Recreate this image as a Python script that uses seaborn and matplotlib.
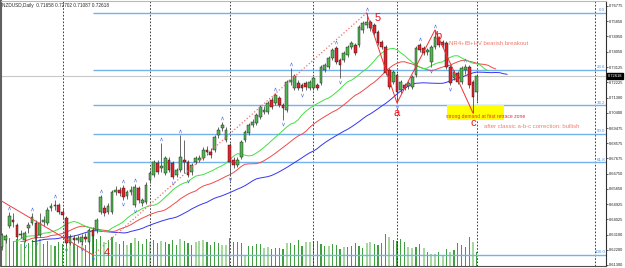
import numpy as np
import pandas as pd
import matplotlib
matplotlib.use("Agg")
import matplotlib.pyplot as plt
import matplotlib.transforms as mtransforms
import seaborn as sns

# NZDUSD daily candles (bar 0 = leftmost)
opens = [
    0.6237, 0.6279, 0.6363, 0.6399, 0.6369, 0.6309, 0.6279, 0.6351, 0.6381, 0.6381,
    0.6309, 0.6387, 0.6381, 0.6471, 0.6483, 0.6489, 0.6447, 0.6411, 0.6261, 0.6291,
    0.6279, 0.6267, 0.6297, 0.6267, 0.6339, 0.6339, 0.6447, 0.6471, 0.6447, 0.6447,
    0.6566, 0.6578, 0.6590, 0.6542, 0.6566, 0.6489, 0.6590, 0.6501, 0.6506, 0.6638,
    0.6668, 0.6740, 0.6710, 0.6680, 0.6757, 0.6740, 0.6668, 0.6698, 0.6757, 0.6745,
    0.6686, 0.6745, 0.6757, 0.6769, 0.6817, 0.6805, 0.6817, 0.6907, 0.6949, 0.6877,
    0.6847, 0.6757, 0.6728, 0.6775, 0.6877, 0.6919, 0.6967, 0.6979, 0.7014, 0.7044,
    0.7044, 0.7116, 0.7098, 0.7128, 0.7086, 0.7056, 0.7223, 0.7188, 0.7218, 0.7206,
    0.7218, 0.7188, 0.7188, 0.7206, 0.7218, 0.7295, 0.7313, 0.7367, 0.7427, 0.7355,
    0.7355, 0.7385, 0.7433, 0.7445, 0.7445, 0.7534, 0.7564, 0.7582, 0.7564, 0.7522,
    0.7462, 0.7433, 0.7295, 0.7223, 0.7265, 0.7176, 0.7206, 0.7200, 0.7194, 0.7265,
    0.7445, 0.7427, 0.7403, 0.7343, 0.7433, 0.7486, 0.7462, 0.7456, 0.7313, 0.7247,
    0.7277, 0.7223, 0.7295, 0.7313, 0.7223, 0.71658]
highs = [
    0.6321, 0.6315, 0.6447, 0.6441, 0.6381, 0.6339, 0.6333, 0.6387, 0.6441, 0.6399,
    0.6441, 0.6423, 0.6477, 0.6501, 0.6518, 0.6501, 0.6465, 0.6423, 0.6315, 0.6309,
    0.6309, 0.6315, 0.6321, 0.6351, 0.6357, 0.6411, 0.6548, 0.6489, 0.6501, 0.6578,
    0.6602, 0.6596, 0.6608, 0.6578, 0.6602, 0.6614, 0.6602, 0.6530, 0.6626, 0.6698,
    0.6757, 0.6757, 0.6859, 0.6781, 0.6775, 0.6751, 0.6710, 0.6907, 0.6877, 0.6757,
    0.6740, 0.6781, 0.6787, 0.6835, 0.6841, 0.6829, 0.6907, 0.6955, 0.6984, 0.6955,
    0.6859, 0.6775, 0.6775, 0.6877, 0.6937, 0.6979, 0.7002, 0.7038, 0.7086, 0.7080,
    0.7110, 0.7134, 0.7158, 0.7140, 0.7098, 0.7235, 0.7307, 0.7271, 0.7235, 0.7218,
    0.7229, 0.7235, 0.7259, 0.7218, 0.7325, 0.7337, 0.7379, 0.7427, 0.7439, 0.7367,
    0.7409, 0.7445, 0.7468, 0.7456, 0.7564, 0.7588, 0.7636, 0.7594, 0.7576, 0.7534,
    0.7474, 0.7445, 0.7307, 0.7295, 0.7277, 0.7235, 0.7218, 0.7229, 0.7265, 0.7439,
    0.7456, 0.7439, 0.7427, 0.7445, 0.7534, 0.7498, 0.7474, 0.7468, 0.7325, 0.7295,
    0.7289, 0.7319, 0.7331, 0.7325, 0.7235, 0.72702]
lows = [
    0.6220, 0.6261, 0.6351, 0.6357, 0.6285, 0.6291, 0.6267, 0.6321, 0.6369, 0.6279,
    0.6297, 0.6363, 0.6369, 0.6453, 0.6459, 0.6435, 0.6411, 0.6243, 0.6249, 0.6255,
    0.6261, 0.6249, 0.6267, 0.6255, 0.6190, 0.6321, 0.6435, 0.6423, 0.6435, 0.6435,
    0.6548, 0.6542, 0.6518, 0.6524, 0.6548, 0.6477, 0.6501, 0.6483, 0.6495, 0.6620,
    0.6656, 0.6674, 0.6686, 0.6668, 0.6686, 0.6644, 0.6656, 0.6686, 0.6680, 0.6656,
    0.6668, 0.6734, 0.6745, 0.6757, 0.6787, 0.6769, 0.6805, 0.6889, 0.6931, 0.6865,
    0.6668, 0.6710, 0.6716, 0.6763, 0.6865, 0.6907, 0.6955, 0.6967, 0.7002, 0.7032,
    0.7032, 0.7062, 0.7086, 0.7074, 0.6996, 0.7044, 0.7206, 0.7176, 0.7176, 0.7170,
    0.7176, 0.7176, 0.7176, 0.7176, 0.7206, 0.7283, 0.7301, 0.7355, 0.7331, 0.7247,
    0.7343, 0.7373, 0.7421, 0.7385, 0.7433, 0.7516, 0.7546, 0.7528, 0.7504, 0.7445,
    0.7421, 0.7265, 0.7182, 0.7212, 0.7098, 0.7158, 0.7176, 0.7182, 0.7182, 0.7253,
    0.7403, 0.7385, 0.7385, 0.7313, 0.7421, 0.7433, 0.7427, 0.7301, 0.7206, 0.7235,
    0.7212, 0.7212, 0.7271, 0.7188, 0.7038, 0.71087]
closes = [
    0.6309, 0.6303, 0.6423, 0.6387, 0.6297, 0.6315, 0.6321, 0.6369, 0.6417, 0.6291,
    0.6381, 0.6399, 0.6459, 0.6483, 0.6489, 0.6447, 0.6429, 0.6261, 0.6297, 0.6279,
    0.6291, 0.6297, 0.6285, 0.6339, 0.6303, 0.6399, 0.6536, 0.6441, 0.6483, 0.6566,
    0.6578, 0.6560, 0.6536, 0.6566, 0.6578, 0.6596, 0.6518, 0.6518, 0.6608, 0.6680,
    0.6745, 0.6686, 0.6722, 0.6769, 0.6698, 0.6656, 0.6698, 0.6775, 0.6745, 0.6668,
    0.6728, 0.6769, 0.6769, 0.6817, 0.6805, 0.6787, 0.6895, 0.6937, 0.6967, 0.6937,
    0.6745, 0.6728, 0.6757, 0.6865, 0.6925, 0.6967, 0.6984, 0.7026, 0.7074, 0.7056,
    0.7098, 0.7074, 0.7146, 0.7086, 0.7068, 0.7223, 0.7235, 0.7259, 0.7188, 0.7188,
    0.7194, 0.7223, 0.7247, 0.7188, 0.7313, 0.7325, 0.7367, 0.7415, 0.7343, 0.7325,
    0.7397, 0.7433, 0.7456, 0.7397, 0.7552, 0.7576, 0.7582, 0.7546, 0.7516, 0.7456,
    0.7433, 0.7277, 0.7194, 0.7283, 0.7164, 0.7223, 0.7188, 0.7218, 0.7253, 0.7427,
    0.7415, 0.7397, 0.7415, 0.7433, 0.7492, 0.7445, 0.7445, 0.7313, 0.7218, 0.7283,
    0.7223, 0.7307, 0.7313, 0.7206, 0.7134, 0.72618]

# tick volume (chart units) and whether the bar is drawn dark (1) or light (0) green
volume = [30, 26, 28, 24, 27, 22, 25, 23, 26, 29, 27, 22, 25, 21, 20, 24, 22, 31, 26, 22,
          20, 23, 21, 25, 33, 27, 30, 24, 26, 29, 24, 22, 25, 21, 23, 28, 25, 22, 27, 24,
          26, 23, 25, 24, 22, 26, 21, 27, 25, 23, 21, 24, 25, 26, 24, 21, 24, 23, 21, 21,
          28, 24, 24, 23, 10, 20, 20, 22, 22, 18, 19, 17, 18, 18, 17, 23, 23, 21, 26, 20,
          24, 24, 25, 25, 22, 20, 20, 22, 21, 17, 19, 19, 20, 23, 20, 18, 23, 24, 22, 21,
          23, 32, 29, 26, 25, 27, 24, 19, 18, 19, 22, 18, 14, 12, 12, 14, 11, 17, 14, 16,
          23, 21, 19, 29, 24, 14]
vol_dark = [1, 0, 1, 1, 1, 0, 1, 1, 1, 1, 0, 1, 1, 0, 1, 1, 1, 1, 0, 1,
            1, 0, 1, 1, 1, 1, 1, 0, 1, 1, 0, 1, 1, 0, 1, 0, 1, 1, 1, 0,
            1, 1, 0, 1, 1, 1, 1, 0, 1, 1, 1, 0, 0, 0, 1, 1, 1, 1, 0, 0,
            1, 1, 1, 1, 0, 1, 1, 1, 1, 0, 0, 1, 1, 1, 1, 0, 1, 1, 1, 1,
            0, 0, 1, 1, 1, 1, 0, 1, 1, 1, 0, 1, 1, 1, 1, 1, 0, 0, 1, 1,
            1, 1, 0, 1, 1, 1, 1, 0, 0, 1, 1, 0, 1, 0, 0, 1, 0, 1, 0, 1,
            1, 1, 1, 1, 0, 1]

month_starts = [16, 39, 60, 82, 104, 125, 156]
price_ticks = [0.76775, 0.75850, 0.74950, 0.74050, 0.73125, 0.72225, 0.71300, 0.70400,
               0.69475, 0.68575, 0.67675, 0.66750, 0.65850, 0.64925, 0.64025, 0.63100,
               0.62200, 0.61300]
fib_pct = [0.0, 23.6, 38.2, 50.0, 61.8, 100.0]
wave_labels = ["4", "5", "a", "b", "c"]
wave_bars = [24, 96, 104, 114, 124]
prior_pivot = (-1, 0.6525)

n = len(closes)
bars = np.arange(n)
df = pd.DataFrame({"bar": bars, "open": opens, "high": highs, "low": lows, "close": closes})

sns.set_style("white")
plt.rcParams["font.family"] = ["Liberation Sans", "DejaVu Sans"]

fig = plt.figure(figsize=(6.25, 2.68), dpi=100)
ax = fig.add_axes([1 / 625, 2 / 268, 605 / 625, 265 / 268])
ax2 = ax.twinx()
ax.set_zorder(ax2.get_zorder() + 1)
ax.patch.set_visible(False)

x_lo, x_hi = -0.2, 159.0
ax.set_xlim(x_lo, x_hi)
ax.set_ylim(0.6124, 0.7707)

# volumes at the bottom
dark = np.array(vol_dark) == 1
ax2.bar(bars[~dark], np.array(volume)[~dark], width=0.55, color="#a6d8a0", linewidth=0)
ax2.bar(bars[dark], np.array(volume)[dark], width=0.3, color="#3fa040", linewidth=0)
ax2.set_ylim(0, 265)
ax2.set_yticks([])
for s in ax2.spines.values():
    s.set_visible(False)

# period separators
for m in month_starts:
    ax.axvline(m, color="#202020", lw=0.6, ls=(0, (2, 2)), zorder=1)

# current price line
ax.axhline(closes[-1], color="#c8c8c8", lw=0.8, zorder=1)

# fibonacci retracement between wave 4 low and wave 5 high
fib_hi = highs[wave_bars[1]]
fib_lo = lows[wave_bars[0]]
for f in fib_pct:
    lvl = fib_hi - f / 100 * (fib_hi - fib_lo)
    ax.hlines(lvl, wave_bars[0], x_hi, color="#74b2ee", lw=1.0, zorder=1)
    ax.text(x_hi - 0.2, lvl + 0.0004, f"{f:.1f}", ha="right", va="bottom",
            fontsize=3.2, color="#4f93de")

# yellow demand zone
ax.add_patch(plt.Rectangle((117.1, 0.6999), 15.1, 0.0087, color="#ffff00", zorder=1.5, lw=0))

# alligator-style smoothed averages of the median price, shifted forward
median = (df["high"] + df["low"]) / 2
for period, shift, col in [(23, 8, "#3535f0"), (14, 5, "#f04a4a"), (9, 3, "#42e042")]:
    smma = median.ewm(alpha=1 / period, adjust=False).mean()
    sns.lineplot(x=df["bar"] + shift, y=smma, color=col, lw=0.7, ax=ax,
                 estimator=None, sort=False, zorder=2)

# candles
up = df["close"] >= df["open"]
ax.vlines(df["bar"], df["low"], df["high"], color="#505050", lw=0.6, zorder=3)
body = (df["close"] - df["open"]).abs().clip(lower=0.0002)
bottom = df[["open", "close"]].min(axis=1)
ax.bar(df["bar"][up], body[up], bottom=bottom[up], width=0.7, color="#52b552",
       edgecolor="#101010", linewidth=0.3, zorder=4)
ax.bar(df["bar"][~up], body[~up], bottom=bottom[~up], width=0.7, color="#e3232d",
       edgecolor="#101010", linewidth=0.3, zorder=4)

# fractals
hi = np.array(highs)
lo = np.array(lows)
fr_up = [i for i in range(2, n - 2) if hi[i] > hi[i - 2:i].max() and hi[i] >= hi[i + 1:i + 3].max()]
fr_dn = [i for i in range(2, n - 2) if lo[i] < lo[i - 2:i].min() and lo[i] <= lo[i + 1:i + 3].min()]
sns.scatterplot(x=fr_up, y=hi[fr_up] + 0.0022, marker=r"$\wedge$", s=6, color="#4a6ae8",
                linewidth=0, ax=ax, zorder=5)
sns.scatterplot(x=fr_dn, y=lo[fr_dn] - 0.0022, marker=r"$\vee$", s=6, color="#4a6ae8",
                linewidth=0, ax=ax, zorder=5)

# zigzag
zz_x = [prior_pivot[0]] + wave_bars
zz_y = [prior_pivot[1], lows[24], highs[96], lows[104], highs[114], lows[124]]
zz = pd.DataFrame({"x": zz_x, "y": zz_y})
sns.lineplot(data=zz.iloc[0:2], x="x", y="y", color="#f04040", lw=0.7, ax=ax, zorder=6)
sns.lineplot(data=zz.iloc[1:3], x="x", y="y", color="#f07070", lw=0.9, ls=":", ax=ax, zorder=6)
sns.lineplot(data=zz.iloc[2:], x="x", y="y", color="#f03030", lw=0.7, ax=ax,
             estimator=None, sort=False, zorder=6)

# wave labels
lab_pos = [(27.7, 0.6202), (99.0, 0.7606), (104.0, 0.7038), (114.8, 0.7498), (124.0, 0.6978)]
for t, (lx, ly) in zip(wave_labels, lab_pos):
    ax.text(lx, ly, t, color="#e8101a", fontsize=8, ha="center", va="center", zorder=7)

ax.text(117.7, 0.7451, "NR4+IB+HV bearish breakout", color="#f07868", fontsize=4.3,
        va="center", zorder=7)
ax.text(116.9, 0.7016, "strong demand at first retrace zone", color="#e83030", fontsize=3.6,
        va="center", zorder=7)
ax.text(126.9, 0.6955, "after classic a-b-c correction: bullish", color="#f08070", fontsize=4.3,
        va="center", zorder=7)

# axes cosmetics
ax.set_xlabel("")
ax.set_ylabel("")
ax.set_xticks([])
ax.yaxis.tick_right()
ax.set_yticks(price_ticks)
ax.set_yticklabels([f"{p:.5f}" for p in price_ticks])
ax.tick_params(axis="y", labelsize=2.9, length=1.5, width=0.5, pad=0.6, colors="#202020")
ax.spines["left"].set_color("#606060")
ax.spines["left"].set_linewidth(1.5)
ax.spines["top"].set_color("#b8b8b8")
ax.spines["bottom"].set_color("#505050")
ax.spines["right"].set_color("#303030")
ax.spines["right"].set_linewidth(0.8)

trans = mtransforms.blended_transform_factory(ax.transAxes, ax.transData)
ax.text(1.003, closes[-1], f"{closes[-1]:.5f}", transform=trans, ha="left", va="center",
        fontsize=2.9, color="white", zorder=8,
        bbox=dict(boxstyle="square,pad=0.25", fc="black", ec="black"))

fig.text(2 / 625, 1 - 5 / 268, "NZDUSD,Daily  0.71658 0.72702 0.71087 0.72618",
         fontsize=3.4, va="center", ha="left")

fig.savefig("out.png", dpi=100)
